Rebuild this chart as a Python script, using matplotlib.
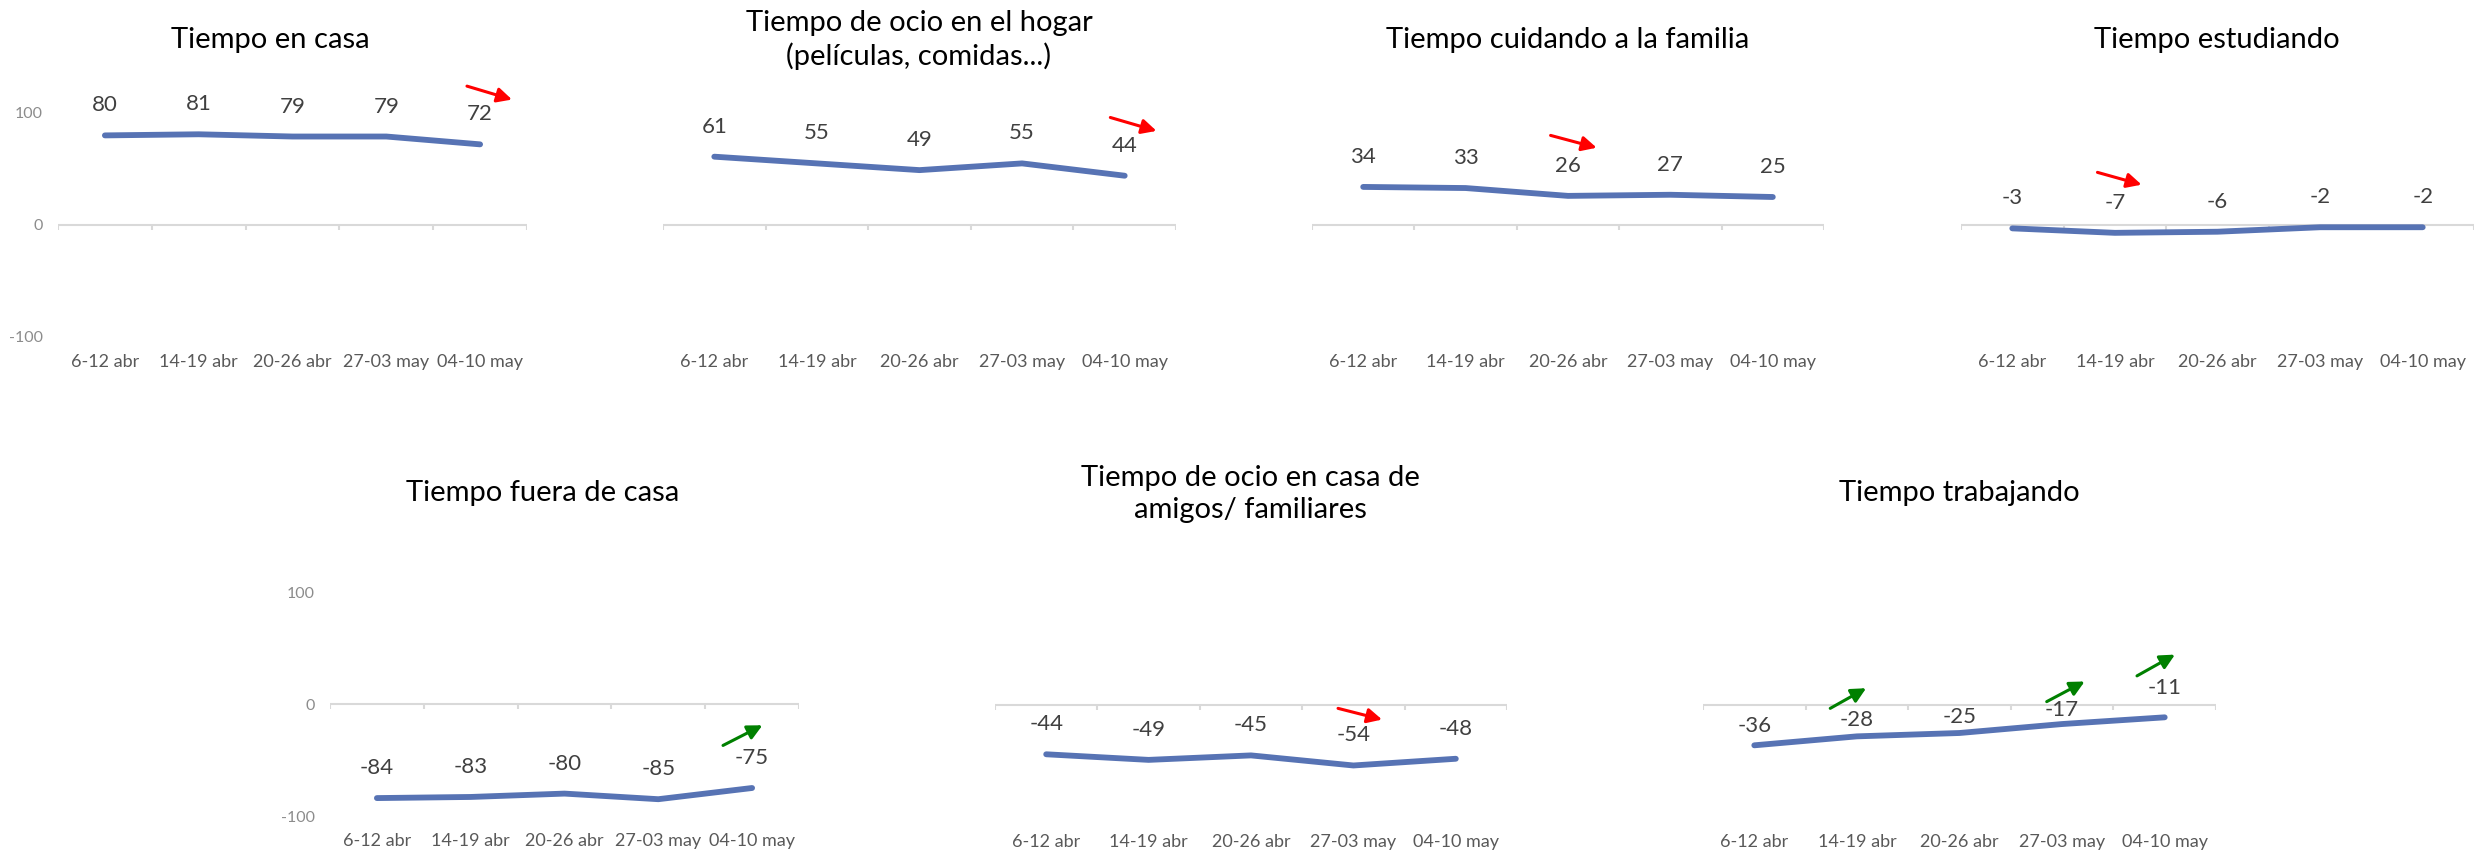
import matplotlib
matplotlib.use('Agg')
import matplotlib.pyplot as plt
import numpy as np

plt.rcParams['font.family'] = ['Lato', 'DejaVu Sans']
plt.rcParams['axes.unicode_minus'] = False

categories = ['6-12 abr', '14-19 abr', '20-26 abr', '27-03 may', '04-10 may']

tiempo_en_casa = [80, 81, 79, 79, 72]
ocio_hogar = [61, 55, 49, 55, 44]
cuidando_familia = [34, 33, 26, 27, 25]
estudiando = [-3, -7, -6, -2, -2]
fuera_de_casa = [-84, -83, -80, -85, -75]
ocio_casa_amigos = [-44, -49, -45, -54, -48]
trabajando = [-36, -28, -25, -17, -11]

titles = [
    'Tiempo en casa',
    'Tiempo de ocio en el hogar\n(películas, comidas...)',
    'Tiempo cuidando a la familia',
    'Tiempo estudiando',
    'Tiempo fuera de casa',
    'Tiempo de ocio en casa de\namigos/ familiares',
    'Tiempo trabajando',
]
series = [tiempo_en_casa, ocio_hogar, cuidando_familia, estudiando,
          fuera_de_casa, ocio_casa_amigos, trabajando]

# trend arrows: panel, start x, start y, end x, end y (data units), colour
arrows = [
    (0, 3.86, 124, 4.34, 112, 'red'),
    (1, 3.86, 96, 4.31, 84, 'red'),
    (2, 1.83, 80, 2.28, 69, 'red'),
    (3, 0.83, 47, 1.26, 36, 'red'),
    (4, 3.69, -37, 4.11, -19, 'green'),
    (5, 2.85, -3, 3.28, -13, 'red'),
    (6, 0.74, -3, 1.09, 15, 'green'),
    (6, 2.85, 3, 3.22, 21, 'green'),
    (6, 3.73, 26, 4.10, 45, 'green'),
]

# layout in pixels: axes left, axes right, y of the zero line
W, H = 2486, 850
boxes = [(58, 527, 225), (663, 1176, 225), (1312, 1824, 225), (1961, 2474, 225),
         (330, 799, 704), (995, 1507, 705), (1703, 2216, 705)]
title_pos = [(270, 40), (919, 40), (1568, 40), (2217, 40),
             (543, 493), (1250, 494), (1959, 493)]
show_yticks = [True, False, False, False, True, False, False]
label_off = [[30] * 5] * 6 + [[19, 16, 16, 14, 29]]
half = 112  # pixels for 100 units

LINE = '#5773B4'

fig = plt.figure(figsize=(W / 100, H / 100), dpi=100)

for i, (title, vals) in enumerate(zip(titles, series)):
    left, right, y0 = boxes[i]
    ax = fig.add_axes([left / W, 1 - (y0 + half) / H, (right - left) / W, 2 * half / H])
    x = np.arange(len(categories))
    n = len(categories)

    ax.axhline(0, color='#d9d9d9', lw=1.5, zorder=1)
    ax.vlines(np.arange(n + 1) - 0.5, -4.5, 0, color='#d9d9d9', lw=1.5, zorder=1)
    ax.plot(x, vals, color=LINE, lw=4.2, solid_capstyle='round',
            solid_joinstyle='round', zorder=3, clip_on=False)

    for xi, v, off in zip(x, vals, label_off[i]):
        ax.annotate(str(v), (xi, v), xytext=(0, off), textcoords='offset pixels',
                    ha='center', va='center', fontsize=16, color='#404040',
                    annotation_clip=False)

    ax.set_xlim(-0.5, n - 0.5)
    ax.set_ylim(-100, 100)
    ax.set_xticks(x, categories)
    ax.tick_params(axis='x', length=0, pad=12, labelsize=13, labelcolor='#595959')
    if show_yticks[i]:
        ax.set_yticks([-100, 0, 100])
        ax.tick_params(axis='y', length=0, pad=11, labelsize=11.5, labelcolor='#8c8c8c')
    else:
        ax.set_yticks([])
    for s in ax.spines.values():
        s.set_visible(False)
    ax.patch.set_alpha(0)

    for p, xa, ya, xb, yb, c in arrows:
        if p == i:
            ax.annotate('', xy=(xb, yb), xytext=(xa, ya),
                        arrowprops=dict(arrowstyle='-|>', color=c, lw=2.2,
                                        mutation_scale=22, shrinkA=0, shrinkB=0),
                        annotation_clip=False)

    tx, ty = title_pos[i]
    fig.text(tx / W, 1 - ty / H, title, ha='center', va='center',
             fontsize=21, color='black', linespacing=1.3)

fig.savefig('out.png', dpi=100)
